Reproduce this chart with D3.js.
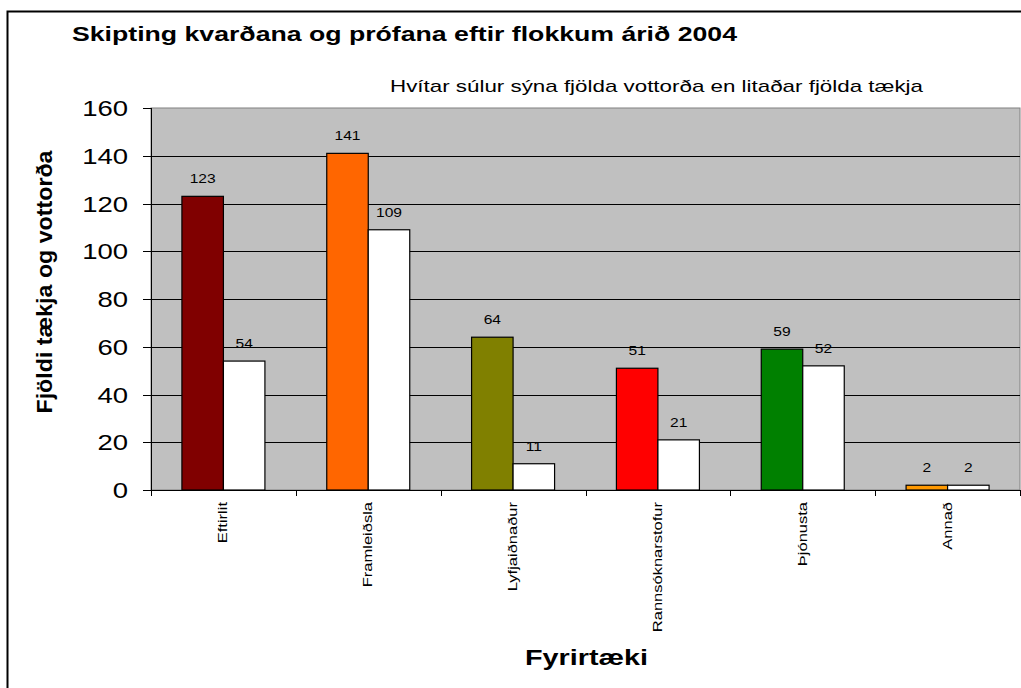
<!DOCTYPE html>
<html>
<head>
<meta charset="utf-8">
<title>Skipting kvarðana og prófana</title>
<style>
body {margin: 0; background: #fff;}
svg text {font-family: "Liberation Sans", Arial, sans-serif; fill: #000;}
</style>
</head>
<body>
<svg width="1021" height="688"></svg>
<script src="https://d3js.org/d3.v7.min.js"></script>
<script>
var categories = ["Eftirlit", "Framleiðsla", "Lyfjaiðnaður", "Rannsóknarstofur", "Þjónusta", "Annað"];
var taeki = [123, 141, 64, 51, 59, 2];
var vottord = [54, 109, 11, 21, 52, 2];
var barColors = ["#800000", "#FF6600", "#808000", "#FF0000", "#008000", "#FF9900"];
var yTicks = [0, 20, 40, 60, 80, 100, 120, 140, 160];

// the original text is drawn a bit wider than Liberation Sans
var SX = 1.27;

var svg = d3.select("svg");
var margin = {top: 108, right: 1, bottom: 198, left: 151},
    width = 1021 - margin.left - margin.right,
    height = 688 - margin.top - margin.bottom;

// outer frame
svg.append("rect")
    .attr("x", 7.5).attr("y", 11.5)
    .attr("width", 1030).attr("height", 700)
    .attr("fill", "none").attr("stroke", "#000").attr("stroke-width", 2);

var g = svg.append("g").attr("transform", "translate(" + margin.left + "," + margin.top + ")");

var x0 = d3.scaleBand().domain(categories).range([0, width]);
var x1 = d3.scaleBand().domain(["taeki", "vottord"]).range([0, 83]);
var y = d3.scaleLinear().domain([0, 160]).range([height, 0]);

g.append("rect")
    .attr("width", width).attr("height", height)
    .attr("fill", "#C0C0C0").attr("stroke", "#808080");

g.selectAll(".grid")
    .data(yTicks.slice(1, -1))
    .enter().append("line")
    .attr("x1", 0).attr("x2", width)
    .attr("y1", function(d) { return Math.round(y(d)) + 0.5; })
    .attr("y2", function(d) { return Math.round(y(d)) + 0.5; })
    .attr("stroke", "#000");

var data = categories.map(function(c, i) {
    return {cat: c, color: barColors[i], vals: [
        {key: "taeki", value: taeki[i]},
        {key: "vottord", value: vottord[i]}
    ]};
});

var groups = g.selectAll(".grp")
    .data(data)
    .enter().append("g")
    .attr("transform", function(d) {
        return "translate(" + (x0(d.cat) + (x0.bandwidth() - 83) / 2) + ",0)";
    });

groups.selectAll("rect")
    .data(function(d) { return d.vals.map(function(v) { return {key: v.key, value: v.value, color: d.color}; }); })
    .enter().append("rect")
    .attr("x", function(d) { return x1(d.key); })
    .attr("y", function(d) { return y(d.value); })
    .attr("width", x1.bandwidth())
    .attr("height", function(d) { return height - y(d.value); })
    .attr("fill", function(d) { return d.key == "taeki" ? d.color : "#fff"; })
    .attr("stroke", "#000").attr("stroke-width", 1.2);

groups.selectAll("text")
    .data(function(d) { return d.vals; })
    .enter().append("text")
    .attr("transform", function(d) {
        return "translate(" + (x1(d.key) + x1.bandwidth() / 2) + "," + (y(d.value) - 13) + ") scale(1.2,1)";
    })
    .attr("text-anchor", "middle")
    .attr("font-size", 13)
    .text(function(d) { return d.value; });

// y axis
var yAxis = g.append("g");
yAxis.append("line").attr("x1", 0.5).attr("x2", 0.5).attr("y1", 0).attr("y2", height).attr("stroke", "#000");
yAxis.selectAll(".tk")
    .data(yTicks)
    .enter().append("line")
    .attr("x1", -8).attr("x2", 0)
    .attr("y1", function(d) { return Math.round(y(d)) + 0.5; })
    .attr("y2", function(d) { return Math.round(y(d)) + 0.5; })
    .attr("stroke", "#000");
yAxis.selectAll(".lbl")
    .data(yTicks)
    .enter().append("text")
    .attr("transform", function(d) { return "translate(-23," + (y(d) + 8) + ") scale(1.25,1)"; })
    .attr("text-anchor", "end")
    .attr("font-size", 22)
    .text(function(d) { return d; });

// x axis
var xAxis = g.append("g").attr("transform", "translate(0," + height + ")");
xAxis.append("line").attr("x1", 0).attr("x2", width).attr("y1", 0.5).attr("y2", 0.5).attr("stroke", "#000");
xAxis.selectAll(".tk")
    .data(categories.concat(["end"]))
    .enter().append("line")
    .attr("x1", function(d, i) { return Math.round(i * x0.step()) + 0.5; })
    .attr("x2", function(d, i) { return Math.round(i * x0.step()) + 0.5; })
    .attr("y1", 0).attr("y2", 6)
    .attr("stroke", "#000");
xAxis.selectAll(".lbl")
    .data(categories)
    .enter().append("text")
    .attr("transform", function(d) {
        return "translate(" + (x0(d) + x0.bandwidth() / 2 + 4) + ",12) rotate(-90) scale(" + SX + ",1)";
    })
    .attr("text-anchor", "end")
    .attr("font-size", 13)
    .text(function(d) { return d; });

// titles
svg.append("text")
    .attr("x", 72).attr("y", 41)
    .attr("font-size", 21).attr("font-weight", "bold")
    .attr("textLength", 665).attr("lengthAdjust", "spacingAndGlyphs")
    .text("Skipting kvarðana og prófana eftir flokkum árið 2004");
svg.append("text")
    .attr("x", 390).attr("y", 92)
    .attr("font-size", 17)
    .attr("textLength", 533).attr("lengthAdjust", "spacingAndGlyphs")
    .text("Hvítar súlur sýna fjölda vottorða en litaðar fjölda tækja");
svg.append("text")
    .attr("transform", "translate(52,282) rotate(-90)")
    .attr("text-anchor", "middle")
    .attr("font-size", 22).attr("font-weight", "bold")
    .attr("textLength", 263).attr("lengthAdjust", "spacingAndGlyphs")
    .text("Fjöldi tækja og vottorða");
svg.append("text")
    .attr("x", 525).attr("y", 665)
    .attr("font-size", 22).attr("font-weight", "bold")
    .attr("textLength", 123).attr("lengthAdjust", "spacingAndGlyphs")
    .text("Fyrirtæki");
</script>
</body>
</html>
